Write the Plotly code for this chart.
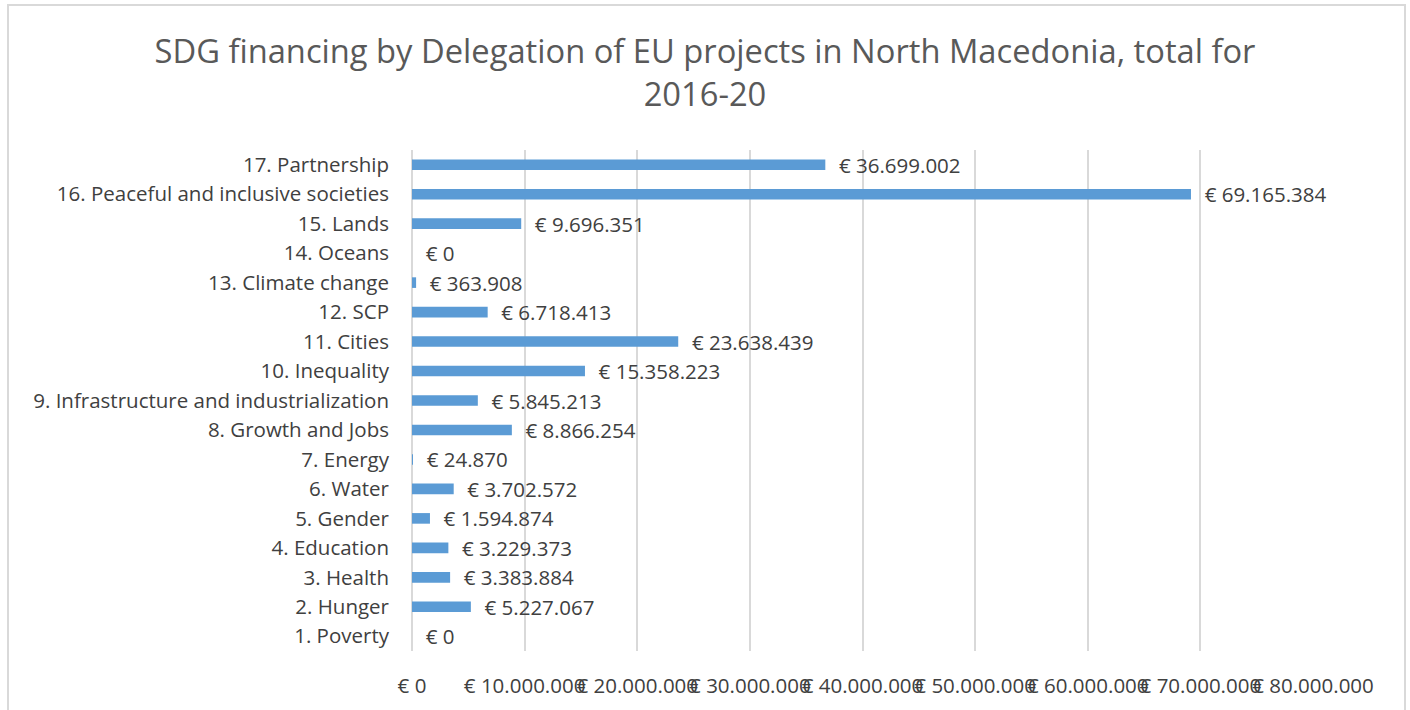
import plotly.graph_objects as go

categories = [
    "1. Poverty", "2. Hunger", "3. Health", "4. Education", "5. Gender",
    "6. Water", "7. Energy", "8. Growth and Jobs",
    "9. Infrastructure and industrialization", "10. Inequality", "11. Cities",
    "12. SCP", "13. Climate change", "14. Oceans", "15. Lands",
    "16. Peaceful and inclusive societies", "17. Partnership",
]
values = [
    0, 5227067, 3383884, 3229373, 1594874, 3702572, 24870, 8866254,
    5845213, 15358223, 23638439, 6718413, 363908, 0, 9696351,
    69165384, 36699002,
]
tick_values = [0, 10000000, 20000000, 30000000, 40000000, 50000000, 60000000, 70000000, 80000000]
title_text = "SDG financing by Delegation of EU projects in North Macedonia, total for<br>2016-20"


def euro(v):
    return "€ " + f"{v:,}".replace(",", ".")


labels = ["\u00a0\u00a0" + euro(v) for v in values]
tick_text = [euro(v) for v in tick_values]

FONT = "Open Sans"
W, H = 1410, 710
L, R, T, B = 412, 1313, 150, 651

fig = go.Figure()
fig.add_trace(go.Bar(
    y=categories, x=values, orientation="h",
    marker=dict(color="#5B9BD5", line=dict(width=0)),
    width=0.36,
    text=labels, textposition="outside", cliponaxis=False,
    constraintext="none",
    textfont=dict(family=FONT, size=20.5, color="#404040"),
    hoverinfo="skip",
))

fig.update_layout(
    width=W, height=H,
    margin=dict(l=L, r=W - R, t=T, b=H - B, pad=0, autoexpand=False),
    paper_bgcolor="white", plot_bgcolor="white",
    showlegend=False,
    font=dict(family=FONT, color="#404040"),
    title=dict(
        text=title_text, x=0.5, xanchor="center", xref="container",
        y=1 - 63 / H, yanchor="middle", yref="container",
        font=dict(family=FONT, size=32.7, color="#595959"),
    ),
    xaxis=dict(
        range=[0, 80000000], tickvals=tick_values, ticktext=tick_text,
        tickangle=0, showgrid=True, gridcolor="#D9D9D9", gridwidth=1.5,
        zeroline=True, zerolinecolor="#D9D9D9", zerolinewidth=1.5,
        showline=False, ticks="", ticklabelstandoff=20,
        tickfont=dict(family=FONT, size=20.5, color="#404040"),
    ),
    yaxis=dict(
        categoryorder="array", categoryarray=categories,
        showgrid=False, zeroline=False, showline=False, ticks="",
        ticklabelstandoff=22,
        tickfont=dict(family=FONT, size=20.5, color="#404040"),
    ),
)

# outer chart border
fig.add_shape(
    type="rect", xref="paper", yref="paper",
    x0=(8 - L) / (R - L), x1=(1405 - L) / (R - L),
    y0=(B - 730) / (B - T), y1=(B - 5) / (B - T),
    line=dict(color="#D9D9D9", width=2), fillcolor="rgba(0,0,0,0)", layer="below",
)

fig.write_html("out.html", config={"displayModeBar": False},
               post_script="document.body.style.margin='0';")
